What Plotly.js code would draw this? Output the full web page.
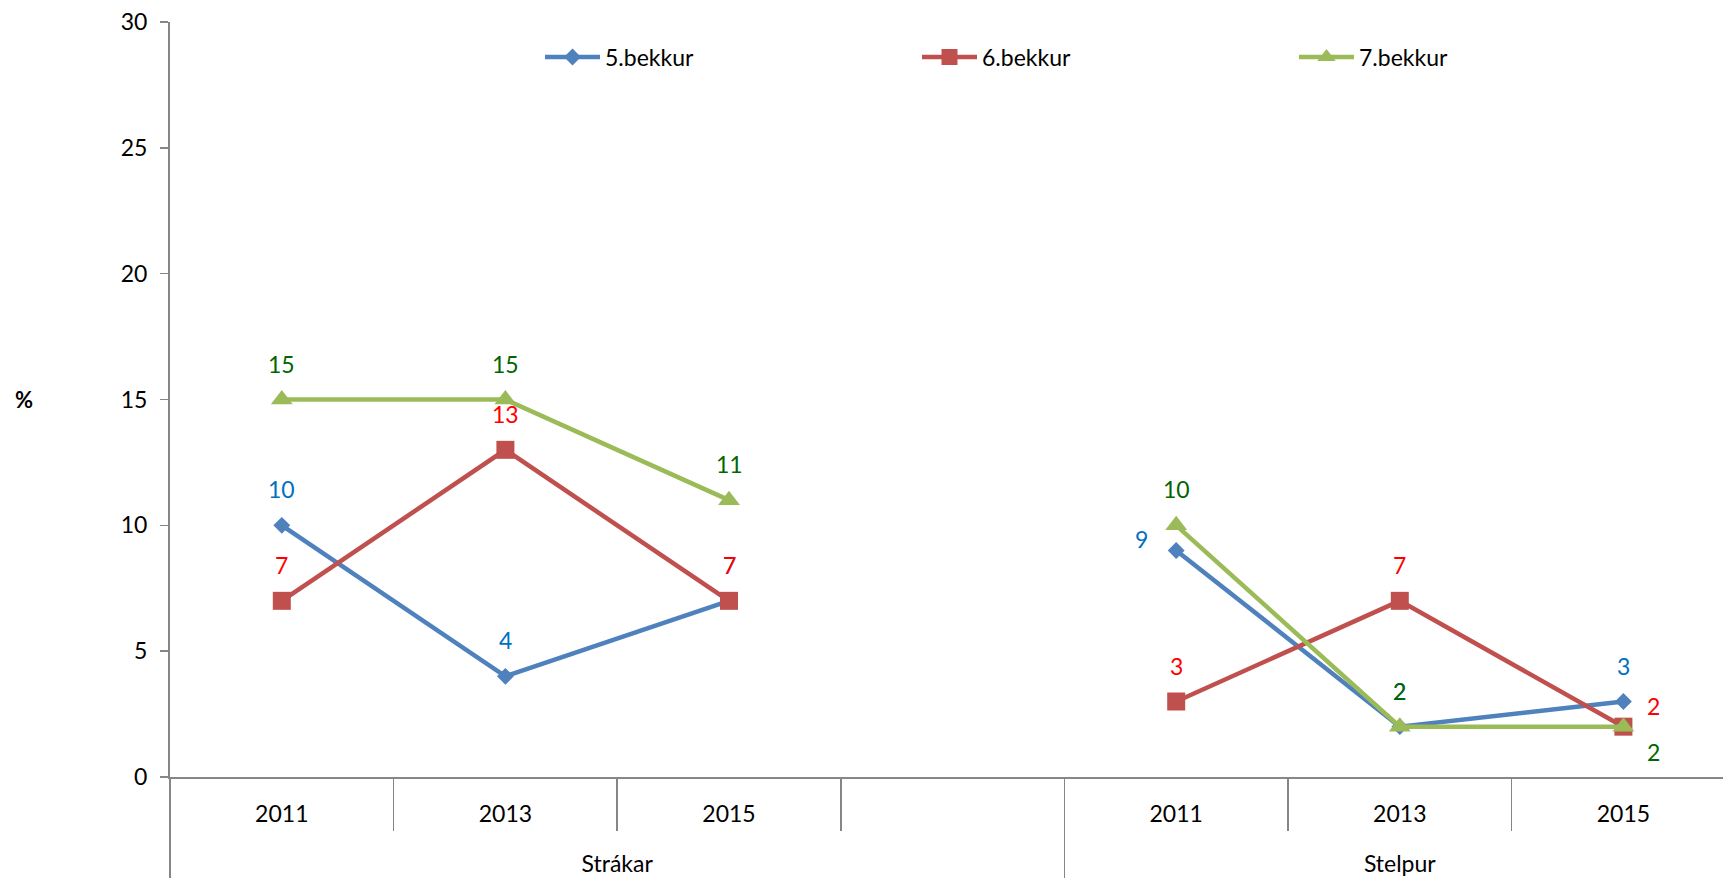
<!DOCTYPE html>
<html>
<head>
<meta charset="utf-8">
<script src="https://cdn.plot.ly/plotly-3.0.1.min.js"></script>
<style>html,body{margin:0;padding:0;background:#fff;}#chart{width:1723px;height:878px;}</style>
</head>
<body>
<div id="chart"></div>
<script>
// ---- data ----
const groups = ["Strákar", "Strákar", "Strákar", "Strákar", "Stelpur", "Stelpur", "Stelpur"];
const years = ["2011", "2013", "2015", "", "2011", "2013", "2015"];
const seriesNames = ["5.bekkur", "6.bekkur", "7.bekkur"];
const bekkur5 = [10, 4, 7, null, 9, 2, 3];
const bekkur6 = [7, 13, 7, null, 3, 7, 2];
const bekkur7 = [15, 15, 11, null, 10, 2, 2];
const yTicks = [0, 5, 10, 15, 20, 25, 30];

// ---- derived category positions ----
const catIndex = years.map((_, i) => i);
const catBounds = catIndex.map(i => i - 0.5).concat([years.length - 0.5]);
const groupNames = [];
const groupStart = [];
const groupEnd = [];
groups.forEach((g, i) => {
  if (groupNames[groupNames.length - 1] !== g) { groupNames.push(g); groupStart.push(i); groupEnd.push(i); }
  else groupEnd[groupEnd.length - 1] = i;
});
const groupCenters = groupStart.map((s, k) => (s + groupEnd[k]) / 2);
const groupBounds = groupStart.map(s => s - 0.5).concat([groupEnd[groupEnd.length - 1] + 0.5]);

// ---- styles ----
const FONT = "Lato, 'Open Sans', sans-serif";
const AXIS = "#868686";
const lineColors = ["#4F81BD", "#C0504D", "#9BBB59"];
const labelColors = ["#0070C0", "#FF0000", "#006600"];
const symbols = ["diamond", "square", "triangle-up"];
const sizes = [13, 18, 19];
const defaultShift = {dx: 0, dy: 36};
const specialShift = {
  "0-4": {dx: -35, dy: 12},
  "1-6": {dx: 30, dy: 21},
  "2-6": {dx: 30, dy: -25}
};
const xRange = [-0.5, -0.5 + 1553 / 223.6];

const allSeries = [bekkur5, bekkur6, bekkur7];
const traces = allSeries.map((vals, s) => ({
  type: "scatter",
  mode: "lines+markers",
  name: seriesNames[s],
  x: catIndex,
  y: vals,
  line: {color: lineColors[s], width: 4.5},
  marker: {symbol: symbols[s], size: sizes[s], color: lineColors[s]},
  cliponaxis: false,
  hoverinfo: "skip"
}));
// empty helper trace so the group-label axis is drawn
traces.push({type: "scatter", mode: "markers", x: [], y: [], xaxis: "x2", yaxis: "y", showlegend: false, hoverinfo: "skip"});

const annotations = [];
allSeries.forEach((vals, s) => {
  vals.forEach((v, i) => {
    if (v === null) return;
    const sh = specialShift[s + "-" + i] || defaultShift;
    annotations.push({
      xref: "x", yref: "y", x: catIndex[i], y: v, text: String(v),
      showarrow: false, xshift: sh.dx, yshift: sh.dy,
      font: {family: FONT, size: 23, color: labelColors[s]}
    });
  });
});
annotations.push({
  xref: "paper", yref: "paper", x: (24 - 170) / 1553, xanchor: "center", y: 0.5, yanchor: "middle",
  text: "<b>%</b>", showarrow: false,
  font: {family: FONT, size: 22, color: "#000"}
});

const layout = {
  width: 1723, height: 878,
  margin: {l: 170, r: 0, t: 22, b: 101},
  paper_bgcolor: "#fff", plot_bgcolor: "#fff",
  font: {family: FONT, size: 23, color: "#000"},
  showlegend: true,
  legend: {
    orientation: "h", x: (540 - 170) / 1553, xanchor: "left",
    y: 1 - (57 - 22) / 755, yanchor: "middle",
    font: {family: FONT, size: 23, color: "#000"},
    entrywidth: 307, entrywidthmode: "pixels",
    itemwidth: 55, bgcolor: "rgba(0,0,0,0)"
  },
  xaxis: {
    type: "linear", range: xRange,
    tickmode: "array", tickvals: catIndex, ticktext: years, ticks: "",
    minor: {tickmode: "array", tickvals: catBounds, ticks: "outside", ticklen: 52, tickwidth: 1.5, tickcolor: AXIS, showgrid: false},
    showline: true, linecolor: AXIS, linewidth: 2,
    tickfont: {family: FONT, size: 23, color: "#000"},
    ticklabelstandoff: 15,
    showgrid: false, zeroline: false, fixedrange: true
  },
  xaxis2: {
    type: "linear", range: xRange, overlaying: "x", anchor: "y", side: "bottom",
    tickmode: "array", tickvals: groupCenters, ticktext: groupNames, ticks: "",
    minor: {tickmode: "array", tickvals: groupBounds, ticks: "outside", ticklen: 101, tickwidth: 1.5, tickcolor: AXIS, showgrid: false},
    showline: false,
    tickfont: {family: FONT, size: 23, color: "#000"},
    ticklabelstandoff: 71,
    showgrid: false, zeroline: false, fixedrange: true
  },
  yaxis: {
    range: [0, 30], tickmode: "array", tickvals: yTicks, ticktext: yTicks.map(String),
    showline: true, linecolor: AXIS, linewidth: 2,
    ticks: "outside", ticklen: 8, tickwidth: 1.5, tickcolor: AXIS,
    tickfont: {family: FONT, size: 23, color: "#000"},
    ticklabelstandoff: 8,
    showgrid: false, zeroline: false, fixedrange: true
  },
  annotations: annotations
};

Plotly.newPlot("chart", traces, layout, {staticPlot: true, displayModeBar: false});
</script>
</body>
</html>
